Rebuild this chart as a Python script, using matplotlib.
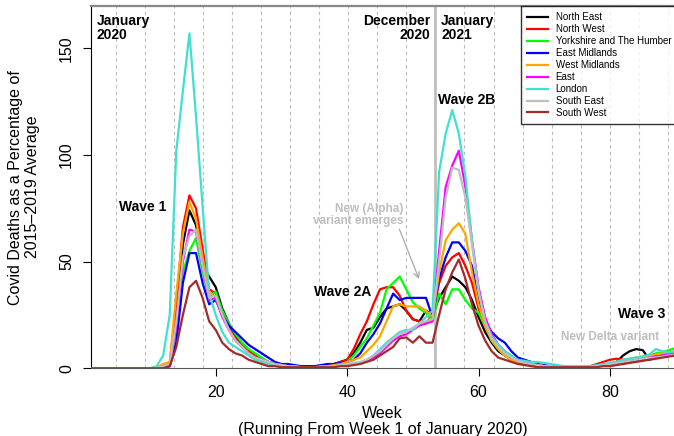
import numpy as np
import matplotlib
matplotlib.use("Agg")
import matplotlib.pyplot as plt

plt.rcParams['font.family'] = ['Liberation Sans', 'DejaVu Sans']

weeks = np.arange(1, 91)

north_east = [0]*10 + [0, 0.5] + \
    [2, 25, 58, 74, 67, 48, 43, 38, 28, 21, 15, 11, 8, 6, 4, 3, 2, 1.5] + \
    [1, 1, 0.5, 0.5, 0.5, 1, 1.5] + \
    [2, 3, 4, 7, 12, 18, 19, 24, 28, 29, 30, 27, 23, 22, 27, 25] + \
    [33, 38, 43, 41, 38, 32, 24, 17] + \
    [12, 8, 6, 4, 3, 2, 1.5, 1, 1, 0.5, 0.5, 0.5, 0.5, 0.5, 0.5, 0.5, 1, 1.5, 2, 3,
     6, 8, 9, 8.5, 4, 5, 6, 7, 7]
north_west = [0]*10 + [0, 1] + \
    [2, 30, 66, 81, 75, 56, 37, 35, 26, 19, 14, 11, 8, 6, 4, 3, 2, 1.5] + \
    [1, 1, 0.5, 0.5, 0.5, 1, 1.5] + \
    [2, 3, 4, 9, 16, 22, 30, 37, 38, 38, 34, 27, 23, 22, 21, 25] + \
    [40, 48, 52, 54, 48, 40, 28, 20] + \
    [14, 10, 7, 5, 3.5, 2.5, 2, 1.5, 1, 1, 0.5, 0.5, 0.5, 0.5, 0.5, 1, 2, 3, 4, 4.5,
     4, 3.5, 4, 5, 5, 6, 6, 7, 7]
yorkshire = [0]*10 + [0, 0.5] + \
    [1, 15, 45, 55, 61, 45, 33, 36, 27, 21, 16, 12, 9, 7, 5, 3, 2, 1.5] + \
    [1, 1, 0.5, 0.5, 0.5, 1, 1] + \
    [1.5, 2, 3, 6, 10, 14, 20, 26, 37, 40, 43, 37, 31, 28, 26, 22] + \
    [35, 30, 37, 37, 32, 28, 26, 20] + \
    [13, 9, 6, 4, 3.5, 2.5, 2, 1.5, 1, 1, 0.5, 0.5, 0.5, 0.5, 0.5, 0.5, 1, 1.5, 2, 3,
     4, 4.5, 5, 5.5, 6, 7, 7.5, 8.5, 9.5]
east_midlands = [0]*10 + [0, 0.5] + \
    [1, 12, 40, 54, 54, 40, 30, 32, 25, 20, 17, 14, 11, 9, 7, 5, 3, 2] + \
    [2, 1.5, 1, 1, 1, 1.5, 2] + \
    [2, 2.5, 3, 4, 7, 12, 16, 21, 28, 35, 32, 33, 33, 33, 33, 24] + \
    [42, 52, 59, 59, 55, 48, 32, 22] + \
    [17, 14, 12, 8, 5, 4, 3, 2, 1.5, 1, 1, 0.5, 0.5, 0.5, 0.5, 0.5, 1, 1.5, 2, 2.5,
     3, 3.5, 4, 4.5, 5, 5, 5.5, 6, 6]
west_midlands = [0]*10 + [0.5, 2] + \
    [3, 35, 63, 78, 70, 52, 36, 33, 25, 18, 13, 10, 7, 5, 4, 3, 2, 1.5] + \
    [1, 1, 0.5, 0.5, 0.5, 1, 1] + \
    [1.5, 2, 3, 4, 5, 8, 11, 15, 22, 29, 30, 29, 29, 29, 27, 24] + \
    [45, 60, 65, 68, 63, 45, 30, 20] + \
    [13, 9, 6, 4, 3, 2.5, 2, 1.5, 1, 1, 0.5, 0.5, 0.5, 0.5, 0.5, 0.5, 1, 1.5, 2, 3,
     3.5, 4, 5, 5.5, 6, 6.5, 7, 7.5, 8]
east = [0]*10 + [0, 0.5] + \
    [1, 20, 50, 65, 64, 48, 32, 33, 24, 18, 13, 10, 7, 5, 4, 3, 2, 1.5] + \
    [1, 1, 0.5, 0.5, 0.5, 0.5, 1] + \
    [1, 1.5, 2, 2, 2.5, 3.5, 5, 7, 10, 13, 15, 16, 18, 20, 21, 22] + \
    [55, 85, 95, 102, 85, 60, 38, 24] + \
    [16, 11, 8, 5, 4, 3, 2, 1.5, 1, 1, 0.5, 0.5, 0.5, 0.5, 0.5, 0.5, 1, 1.5, 2, 2.5,
     3, 3.5, 4, 4.5, 5, 5.5, 6, 6.5, 7]
london = [0]*10 + [1, 6] + \
    [25, 102, 130, 157, 118, 76, 35, 25, 17, 12, 10, 8, 6, 4, 3, 2, 1.5, 1] + \
    [1, 0.5, 0.5, 0.5, 0.5, 0.5, 1] + \
    [1, 1.5, 2, 2, 2.5, 4, 6, 9, 12, 14.5, 17, 18, 18, 21, 24, 27] + \
    [92, 110, 121, 110, 90, 60, 36, 22] + \
    [15, 11, 8, 6, 4, 3.5, 3, 3, 2.5, 2, 1.5, 1, 1, 1, 1, 1, 1.5, 2, 2.5, 3,
     4, 4.5, 5, 5.5, 6.5, 9, 8, 7.5, 8]
south_east = [0]*10 + [0.5, 1] + \
    [2, 22, 52, 62, 65, 48, 33, 34, 25, 18, 13, 10, 7, 5, 4, 3, 2, 1.5] + \
    [1, 1, 0.5, 0.5, 0.5, 0.5, 1] + \
    [1, 1.5, 2, 2.5, 3, 4, 6, 8, 11, 14, 16, 17, 19, 21, 22, 23] + \
    [50, 80, 94, 93, 80, 58, 36, 22] + \
    [14, 10, 7, 5, 3.5, 2.5, 2, 1.5, 1, 1, 0.5, 0.5, 0.5, 0.5, 0.5, 0.5, 1, 1.5, 2, 2.5,
     3, 3.5, 4, 4.5, 5, 5, 5.5, 6, 6.5]
south_west = [0]*10 + [0, 0] + \
    [1, 10, 25, 38, 41, 33, 22, 18, 12, 9, 7, 6, 4, 3, 2, 1, 1, 0.5] + \
    [0.5, 0.5, 0.5, 0.5, 0.5, 0.5, 0.5] + \
    [0.5, 1, 1, 1.5, 2, 3, 4, 6, 8, 10, 14, 14.5, 12, 15, 12, 12] + \
    [25, 37, 45, 51, 42, 30, 20, 13] + \
    [8, 5, 4, 3, 2, 1.5, 1, 0.5, 0.5, 0.5, 0.5, 0.5, 0.5, 0.5, 0.5, 0.5, 0.5, 1, 1, 1.5,
     2, 2.5, 3, 3.5, 4, 4.5, 5, 5.5, 6]

regions = ["North East", "North West", "Yorkshire and The Humber", "East Midlands",
           "West Midlands", "East", "London", "South East", "South West"]
series = [north_east, north_west, yorkshire, east_midlands, west_midlands,
          east, london, south_east, south_west]
colors = ["black", "#FF0000", "#00FF00", "#0000FF", "#FFA500", "#FF00FF",
          "#40E0D0", "#BEBEBE", "#A52A2A"]

fig = plt.figure(figsize=(6.74, 4.36), dpi=100)
ax = fig.add_axes([0.1346, 0.1553, 0.8655, 0.8310])

# month guide lines, the start of 2021 drawn solid
month_lines = 4.82 + 4.42 * np.arange(20)
for i, m in enumerate(month_lines):
    if i == 11:
        ax.axvline(m, color="#BEBEBE", lw=2, zorder=1)
    else:
        ax.axvline(m, color="#BBBBBB", lw=0.8, ls=(0, (3, 3)), zorder=1)

for name, vals, c in zip(regions, series, colors):
    ax.plot(weeks, vals, color=c, lw=1.6, label=name, zorder=3)

ax.set_xlim(0.974, 89.76)
ax.set_ylim(0, 169.8)
ax.set_xticks([20, 40, 60, 80])
ax.set_yticks([0, 50, 100, 150])
ax.tick_params(labelsize=11.5, length=6, width=0.8, pad=6)
for lab in ax.get_yticklabels():
    lab.set_rotation(90)
    lab.set_va("center")

ax.spines["right"].set_visible(False)
ax.spines["top"].set_color("#888888")
ax.spines["top"].set_linewidth(1.6)
ax.spines["bottom"].set_color("#555555")
ax.spines["left"].set_color("black")

ax.set_xlabel("Week\n(Running From Week 1 of January 2020)", fontsize=11.5, labelpad=4,
              linespacing=1.1)
ax.set_ylabel("Covid Deaths as a Percentage of\n2015\u20132019 Average", fontsize=11.5,
              labelpad=14, linespacing=1.1)

bold = dict(fontsize=10, fontweight="bold", color="black")
ax.text(1.9, 166, "January\n2020", ha="left", va="top", linespacing=1.0, **bold)
ax.text(52.6, 166, "December\n2020", ha="right", va="top", linespacing=1.0,
        multialignment="right", **bold)
ax.text(54.3, 166, "January\n2021", ha="left", va="top", linespacing=1.0, **bold)
ax.text(58.2, 125.8, "Wave 2B", ha="center", va="center", **bold)
ax.text(8.9, 75.8, "Wave 1", ha="center", va="center", **bold)
ax.text(39.3, 35.9, "Wave 2A", ha="center", va="center", **bold)
ax.text(84.9, 25.3, "Wave 3", ha="center", va="center", **bold)

grey = dict(fontsize=8.5, fontweight="bold", color="#BEBEBE")
ax.text(80, 14.8, "New Delta variant", ha="center", va="center", **grey)
ax.text(48.6, 71.7, "New (Alpha)\nvariant emerges", ha="right", va="center",
        multialignment="right", linespacing=1.0, **grey)
ax.annotate("", xy=(51.1, 40.6), xytext=(47.8, 66.4),
            arrowprops=dict(arrowstyle="->", color="#AAAAAA", lw=0.9))

leg = ax.legend(loc="upper left", bbox_to_anchor=(0.7377, 1.0), borderaxespad=0,
                fontsize=7, frameon=True, fancybox=False, edgecolor="black",
                handlelength=2.1, handletextpad=0.8, labelspacing=0.2,
                borderpad=0.65)
leg.get_frame().set_linewidth(1.0)
leg.set_zorder(5)

fig.savefig("out.png", dpi=100)
